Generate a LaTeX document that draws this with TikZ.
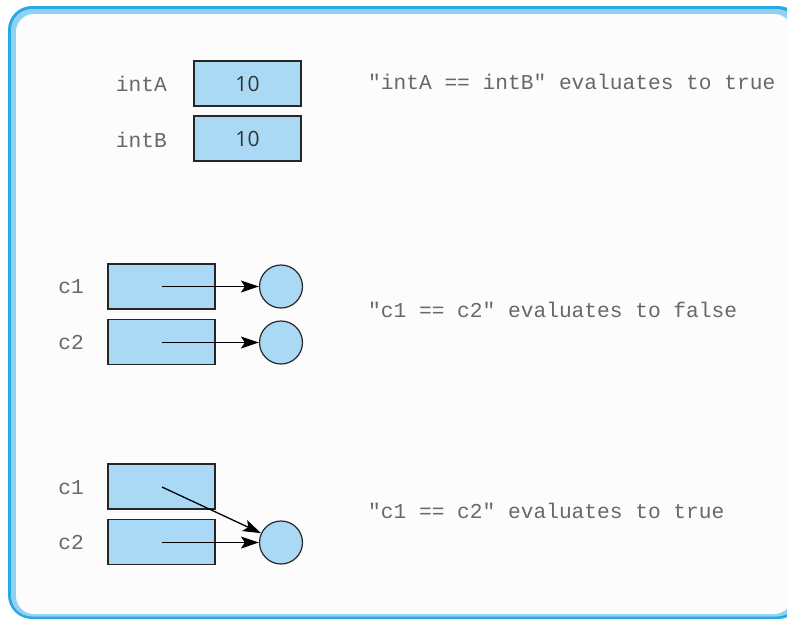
\documentclass[tikz,border=0pt]{standalone}
\usepackage{fontspec}
\setmonofont{Liberation Mono}
\newfontfamily\numfont{Open Sans}
\usetikzlibrary{arrows.meta}
\definecolor{frameblue}{HTML}{2AA8E2}
\definecolor{framemid}{HTML}{8FD2F3}
\definecolor{boxblue}{HTML}{AAD9F5}
\definecolor{labgray}{HTML}{686868}
\definecolor{numgray}{HTML}{333333}
\tikzset{
  varbox/.style={draw=black!85, line width=1.2pt, fill=boxblue, minimum width=107pt, minimum height=45pt, inner sep=0pt},
  objcirc/.style={circle, draw=black!85, line width=1.2pt, fill=boxblue, minimum size=43pt, inner sep=0pt},
  lab/.style={font=\ttfamily\fontsize{21.2}{21}\selectfont, text=labgray, inner sep=0pt},
  num/.style={font=\numfont\fontsize{21}{21}\selectfont, text=numgray, inner sep=0pt},
  pointer/.style={line width=1.3pt, draw=black, -{Stealth[length=18pt,width=12pt,inset=4pt]}}
}
\begin{document}
\begin{tikzpicture}[x=1pt,y=-1pt]
\useasboundingbox (0,0) rectangle (787,619);
\clip (0,0) rectangle (787,619);
% frame
\fill[frameblue, rounded corners=24pt] (8,6) rectangle (802,619);
\fill[framemid, rounded corners=21pt] (11,9) rectangle (798,616.5);
\fill[white!99!black, rounded corners=18pt] (16,14) rectangle (792,614);

% top section
\node[varbox] (a) at (247.5,83.5) {};
\node[num] at (a.center) {10};
\node[varbox] (b) at (247.5,138.5) {};
\node[num] at (b.center) {10};
\node[lab, anchor=east] (la) at (167,84) {intA};
\node[lab, anchor=east] (lb) at (167,140) {intB};
\node[lab, anchor=west] (t1) at (368,82) {"intA == intB" evaluates to true};

% middle section
\node[varbox] (m1) at (161.5,286.5) {};
\node[varbox] (m2) at (161.5,342) {};
\node[objcirc] (o1) at (281,286.5) {};
\node[objcirc] (o2) at (281,342.5) {};
\node[lab, anchor=east] at (84,287) {c1};
\node[lab, anchor=east] at (84,343) {c2};
\coordinate (p1) at (162,286.5);
\coordinate (p2) at (162,342.5);
\draw[pointer] (p1) -- (o1.west);
\draw[pointer] (p2) -- (o2.west);
\node[lab, anchor=west] (t2) at (368,310) {"c1 == c2" evaluates to false};

% bottom section
\node[varbox] (n1) at (161.5,486.5) {};
\node[varbox] (n2) at (161.5,542) {};
\node[objcirc] (o3) at (281,542.5) {};
\node[lab, anchor=east] at (84,488) {c1};
\node[lab, anchor=east] at (84,543) {c2};
\coordinate (q1) at (162,487);
\coordinate (q2) at (162,542.5);
\draw[pointer] (q1) -- (o3.155);
\draw[pointer] (q2) -- (o3.west);
\node[lab, anchor=west] (t3) at (368,511) {"c1 == c2" evaluates to true};
\end{tikzpicture}
\end{document}
